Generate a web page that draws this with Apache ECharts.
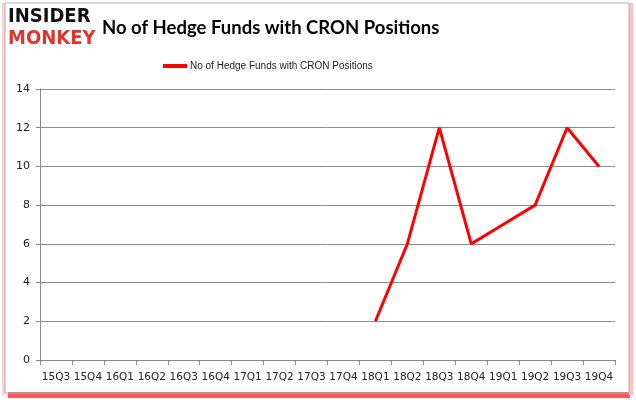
<!DOCTYPE html>
<html><head><meta charset="utf-8">
<script src="https://cdn.jsdelivr.net/npm/echarts@6/dist/echarts.min.js"></script>
<style>html,body{margin:0;padding:0;background:#fff}#c{width:636px;height:405px}</style>
</head><body><div id="c"></div>
<script>
var categories = ['15Q3','15Q4','16Q1','16Q2','16Q3','16Q4','17Q1','17Q2','17Q3','17Q4','18Q1','18Q2','18Q3','18Q4','19Q1','19Q2','19Q3','19Q4'];
var hedgeFunds = [null,null,null,null,null,null,null,null,null,null,2,6,12,6,7,8,12,10];
var yTicks = {min:0, max:14, interval:2};
var seriesName = 'No of Hedge Funds with CRON Positions';
var chart = echarts.init(document.getElementById('c'));
chart.setOption({
  animation:false,
  backgroundColor:'#fff',
  title:{text:'No of Hedge Funds with CRON Positions', left:97, top:14,
    textStyle:{fontFamily:'Lato', fontSize:18.5, fontWeight:'bold', color:'#000'}},
  legend:{data:[seriesName], top:56, left:158, itemWidth:24, itemHeight:4, itemGap:4, icon:'rect',
    textStyle:{fontFamily:'Liberation Sans', fontSize:10, color:'#222', padding:[0,0,0,-2]}},
  grid:{left:40, right:21, top:89, bottom:45},
  xAxis:{type:'category', data:categories, boundaryGap:true,
    axisLine:{lineStyle:{color:'#888'}}, axisTick:{show:true, length:5, lineStyle:{color:'#888'}},
    axisLabel:{fontFamily:'DejaVu Sans', fontSize:10.5, color:'#222', margin:12, interval:0}},
  yAxis:{type:'value', min:yTicks.min, max:yTicks.max, interval:yTicks.interval,
    axisLine:{show:true, lineStyle:{color:'#888'}}, axisTick:{show:true, length:4, lineStyle:{color:'#888'}},
    splitLine:{lineStyle:{color:'#8c8c8c'}},
    axisLabel:{fontFamily:'DejaVu Sans', fontSize:11, color:'#222', margin:10}},
  series:[{name:seriesName, type:'line', data:hedgeFunds, symbol:'none', connectNulls:false,
    lineStyle:{color:'#ff0000', width:3}, itemStyle:{color:'#ff0000'}}],
  graphic:[
    {type:'rect', shape:{x:8, y:392, width:622, height:6}, style:{fill:'#ff2020', opacity:0.75}, z:-2},
    {type:'rect', shape:{x:5, y:3, width:624, height:390}, style:{fill:'none', stroke:'#b0b0b0', lineWidth:1}, z:-1},
    {type:'rect', shape:{x:2, y:3, width:3, height:392}, style:{fill:'#ffd0d0'}, z:-2},
    {type:'rect', shape:{x:629, y:3, width:4, height:392}, style:{fill:'#ffc0c0'}, z:-2},
    {type:'text', left:8, top:7, style:{text:'INSIDER', fontFamily:'DejaVu Sans Condensed', fontWeight:'bold', fontSize:20, fill:'#111', letterSpacing:-0.5}},
    {type:'text', left:8, top:29, style:{text:'MONKEY', fontFamily:'DejaVu Sans Condensed', fontWeight:'bold', fontSize:20, fill:'#d9382c', letterSpacing:-0.5}}
  ]
});
</script></body></html>
